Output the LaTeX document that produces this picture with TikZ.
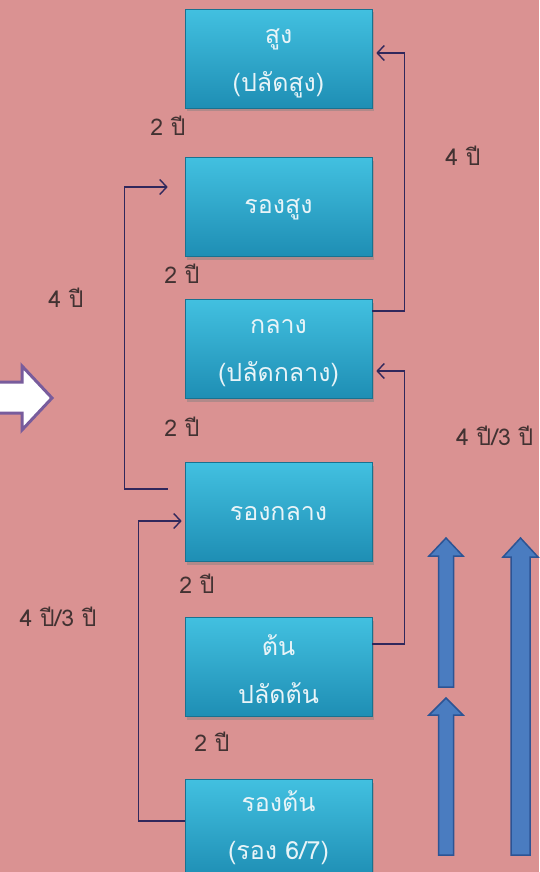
\documentclass[tikz,border=0pt]{standalone}
\usepackage{fontspec}
\newfontfamily\thaifont[Script=Thai]{Loma}
\usetikzlibrary{arrows.meta,shadows,positioning}
\definecolor{bgpink}{RGB}{218,146,146}
\definecolor{boxtop}{RGB}{66,192,224}
\definecolor{boxbot}{RGB}{30,142,180}
\definecolor{boxtext}{RGB}{232,244,248}
\definecolor{connc}{RGB}{48,40,92}
\definecolor{labc}{RGB}{66,50,50}
\definecolor{bluef}{RGB}{74,124,192}
\definecolor{blued}{RGB}{44,84,148}
\definecolor{arrowedge}{RGB}{120,92,156}
\tikzset{
  levelbox/.style={rectangle, minimum width=187pt, minimum height=99pt, inner sep=0pt,
    top color=boxtop, bottom color=boxbot, draw=boxbot!80!black, line width=0.6pt,
    drop shadow={shadow xshift=2pt, shadow yshift=-3pt, opacity=0.45}},
  boxtxt/.style={text=boxtext, align=center, inner sep=0pt,
    font=\thaifont\fontsize{25}{48}\selectfont},
  conn/.style={draw=connc, line width=1.4pt},
  connarrow/.style={conn, -{Straight Barb[length=7pt,width=15pt,line width=1.4pt]}},
  yearlab/.style={text=labc, font=\thaifont\fontsize{23}{26}\selectfont, inner sep=0pt},
  bluearrow/.style={fill=bluef, draw=blued, line width=1.5pt},
  bigarrow/.style={fill=white, draw=arrowedge, line width=3pt, line join=miter}
}
\begin{document}
\begin{tikzpicture}[x=1pt,y=-1pt]
  \useasboundingbox (0,0) rectangle (539,872);
  \fill[bgpink] (0,0) rectangle (539,872);

  % boxes
  \node[levelbox] (b1) at (278.5,59)  {};
  \node[levelbox] (b2) at (278.5,207) {};
  \node[levelbox] (b3) at (278.5,349) {};
  \node[levelbox] (b4) at (278.5,512) {};
  \node[levelbox] (b5) at (278.5,667) {};
  \node[levelbox] (b6) at (278.5,829) {};
  \node[boxtxt] (t1) at ([yshift=-4pt]b1.center) {สูง\\(ปลัดสูง)};
  \node[boxtxt] (t2) at ([yshift=-2pt]b2.center) {รองสูง};
  \node[boxtxt] (t3) at ([yshift=-4pt]b3.center) {กลาง\\(ปลัดกลาง)};
  \node[boxtxt] (t4) at ([yshift=-2pt]b4.center) {รองกลาง};
  \node[boxtxt] (t5) at ([yshift=-2pt]b5.center) {ต้น\\ปลัดต้น};
  \node[boxtxt] (t6) at ([yshift=1pt]b6.center) {รองต้น\\(รอง 6/7)};

  % year labels
  \node[yearlab] (l1) at (168,126) {2 ปี};
  \node[yearlab] (l2) at (182,274) {2 ปี};
  \node[yearlab] (l3) at (182,427) {2 ปี};
  \node[yearlab] (l4) at (197,584) {2 ปี};
  \node[yearlab] (l5) at (212,742) {2 ปี};
  \node[yearlab] (l6) at (66,298)  {4 ปี};
  \node[yearlab] (l7) at (463,156) {4 ปี};
  \node[yearlab, anchor=west] (l8) at (456,436) {4 ปี/3 ปี};
  \node[yearlab] (l9) at (58,617) {4 ปี/3 ปี};

  % left connectors
  \draw[connarrow] ([shift={(-17pt,23pt)}]b4.west) -| ([shift={(-60pt,20pt)}]b2.west)
      -- ([shift={(-17pt,20pt)}]b2.west);
  \draw[connarrow] ([yshift=8pt]b6.west) -| ([shift={(-46pt,-9pt)}]b4.west)
      -- ([shift={(-3pt,-9pt)}]b4.west);
  % right connectors
  \draw[connarrow] ([yshift=38pt]b3.east) -| ([shift={(32pt,6pt)}]b1.east)
      -- ([shift={(4pt,6pt)}]b1.east);
  \draw[connarrow] ([yshift=23pt]b5.east) -| ([shift={(32pt,-22pt)}]b3.east)
      -- ([shift={(4pt,-22pt)}]b3.east);

  % big white arrow on the left
  \draw[bigarrow] (-6,382) -- (22,382) -- (22,366) -- (52,398) -- (22,430) -- (22,413) -- (-6,413) -- cycle;

  % blue upward arrows
  \draw[bluearrow] (438.5,687) -- (438.5,556) -- (429,556) -- (446,538) -- (463,556) -- (453.5,556) -- (453.5,687) -- cycle;
  \draw[bluearrow] (438.5,855) -- (438.5,715) -- (429,715) -- (446,698) -- (463,715) -- (453.5,715) -- (453.5,855) -- cycle;
  \draw[bluearrow] (511,855) -- (511,557) -- (503,557) -- (520.5,538) -- (538,557) -- (530,557) -- (530,855) -- cycle;
\end{tikzpicture}
\end{document}
